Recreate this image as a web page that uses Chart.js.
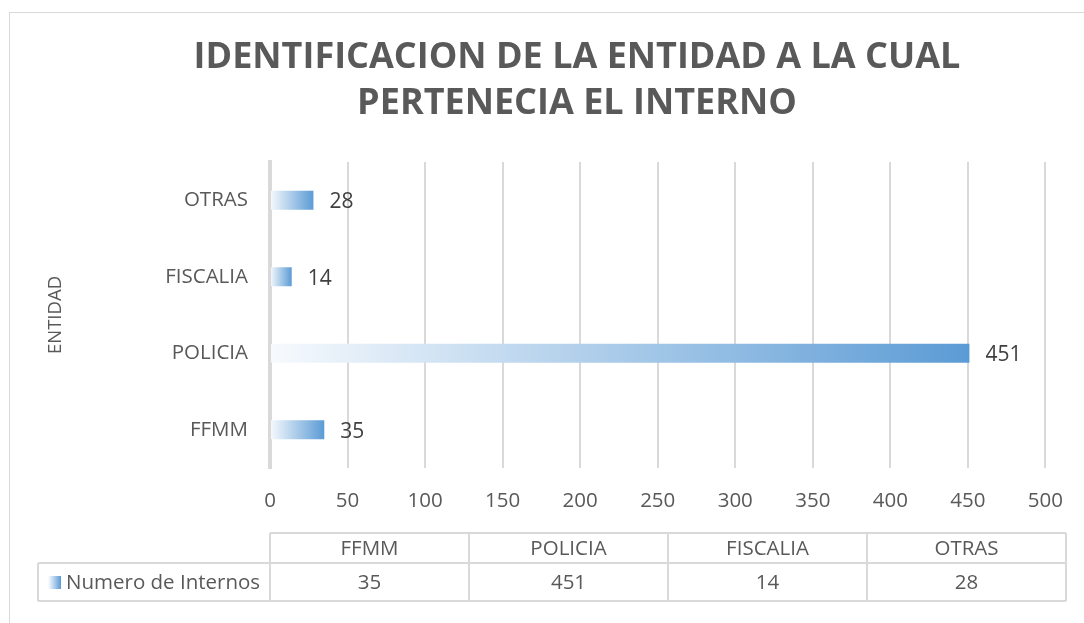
<!DOCTYPE html>
<html>
<head>
<meta charset="utf-8">
<script src="https://cdn.jsdelivr.net/npm/chart.js@4"></script>
<style>
    html, body { margin: 0; padding: 0; background: #ffffff; overflow: hidden; }
    #wrap { position: relative; width: 1084px; height: 623px; overflow: hidden; }
    #frame { position: absolute; left: 9px; top: 12px; width: 1200px; height: 700px; border: 1px solid #d9d9d9; box-sizing: border-box; }
    canvas { position: absolute; left: 0; top: 0; }
</style>
</head>
<body>
<div id="wrap">
    <div id="frame"></div>
    <canvas id="chart" width="1084" height="623"></canvas>
</div>
<script>
// ================= DATA =================
const categories = ["FFMM", "POLICIA", "FISCALIA", "OTRAS"];
const internos = [35, 451, 14, 28];
const seriesName = "Numero de Internos";
const titleLines = ["IDENTIFICACION DE LA ENTIDAD A LA CUAL", "PERTENECIA EL INTERNO"];
const xTicks = [0, 50, 100, 150, 200, 250, 300, 350, 400, 450, 500];

const FONT = "'Open Sans', 'DejaVu Sans', sans-serif";
const TEXT = "#595959";
const GRID = "#d9d9d9";


// ================= GRADIENT =================
function barGradient(ctx) {

    const chart = ctx.chart;

    if (!chart.chartArea || ctx.type !== "data") return "#5b9bd5";

    const xScale = chart.scales.x;
    const x0 = xScale.getPixelForValue(0);
    const x1 = xScale.getPixelForValue(ctx.raw);

    const g = chart.ctx.createLinearGradient(x0, 0, x1, 0);
    g.addColorStop(0, "#f7fafd");
    g.addColorStop(1, "#5b9bd5");
    return g;

}


// ================= TITLE =================
// the original chart is wider than the picture, so its title sits right of the canvas centre
const chartTitle = {
    id: "chartTitle",
    afterDraw(chart) {

        const ctx = chart.ctx;

        ctx.save();
        ctx.font = "bold 36px " + FONT;
        ctx.fillStyle = TEXT;
        ctx.textAlign = "center";
        ctx.textBaseline = "middle";

        titleLines.forEach((line, i) => {
            ctx.fillText(line, 577, 58 + i * 46);
        });

        ctx.restore();

    }
};


// ================= VALUE LABELS =================
const valueLabels = {
    id: "valueLabels",
    afterDatasetsDraw(chart) {

        const ctx = chart.ctx;
        const meta = chart.getDatasetMeta(0);

        ctx.save();
        ctx.font = "21px " + FONT;
        ctx.fillStyle = "#404040";
        ctx.textAlign = "left";
        ctx.textBaseline = "middle";

        meta.data.forEach((bar, i) => {
            ctx.fillText(String(internos[i]), bar.x + 16, bar.y + 2);
        });

        ctx.restore();

    }
};


// ================= DATA TABLE =================
const dataTable = {
    id: "dataTable",
    afterDraw(chart) {

        const ctx = chart.ctx;
        const area = chart.chartArea;

        const left = area.left;
        const right = chart.width - 18;
        const colW = (right - left) / categories.length;
        const legendLeft = 38;
        const top = area.bottom + 65;
        const midY = top + 30;
        const bottomY = midY + 38;

        ctx.save();
        ctx.strokeStyle = GRID;
        ctx.lineWidth = 2;

        ctx.beginPath();
        ctx.moveTo(left, top);
        ctx.lineTo(right, top);
        ctx.moveTo(legendLeft, midY);
        ctx.lineTo(right, midY);
        ctx.moveTo(legendLeft, bottomY);
        ctx.lineTo(right, bottomY);
        ctx.moveTo(legendLeft, midY);
        ctx.lineTo(legendLeft, bottomY);
        for (let i = 0; i <= categories.length; i++) {
            const x = left + i * colW;
            ctx.moveTo(x, top);
            ctx.lineTo(x, bottomY);
        }
        ctx.stroke();

        ctx.fillStyle = TEXT;
        ctx.font = "20.5px " + FONT;
        ctx.textAlign = "center";
        ctx.textBaseline = "middle";

        categories.forEach((cat, i) => {
            const cx = left + (i + 0.5) * colW;
            ctx.fillText(cat, cx, (top + midY) / 2 + 1);
            ctx.fillText(String(internos[i]), cx, (midY + bottomY) / 2 + 1);
        });

        // legend key
        const keyY = (midY + bottomY) / 2;
        const g = ctx.createLinearGradient(legendLeft + 10, 0, legendLeft + 23, 0);
        g.addColorStop(0, "#ffffff");
        g.addColorStop(1, "#5b9bd5");
        ctx.fillStyle = g;
        ctx.fillRect(legendLeft + 10, keyY - 6, 13, 13);

        ctx.fillStyle = TEXT;
        ctx.textAlign = "left";
        ctx.fillText(seriesName, legendLeft + 28, keyY + 1);

        ctx.restore();

    }
};


// ================= CHART =================
new Chart(document.getElementById("chart"), {
    type: "bar",
    data: {
        labels: categories,
        datasets: [{
            label: seriesName,
            data: internos,
            backgroundColor: barGradient,
            borderWidth: 0,
            categoryPercentage: 0.5,
            barPercentage: 0.5
        }]
    },
    options: {
        indexAxis: "y",
        responsive: false,
        animation: false,
        devicePixelRatio: 1,
        layout: {
            padding: { left: 40, right: 34, top: 162, bottom: 90 }
        },
        plugins: {
            legend: { display: false },
            tooltip: { enabled: false },
            title: { display: false }
        },
        scales: {
            x: {
                min: 0,
                max: 500,
                afterBuildTicks(scale) {
                    scale.ticks = xTicks.map(v => ({ value: v }));
                },
                afterFit(scale) {
                    scale.height = 65;
                },
                grid: { color: GRID, lineWidth: 2, drawTicks: false },
                border: { display: false },
                ticks: { color: TEXT, font: { family: FONT, size: 20.5 }, padding: 21 }
            },
            y: {
                reverse: true,
                afterFit(scale) {
                    scale.width = 230;
                },
                grid: { display: false, drawTicks: false },
                border: { color: GRID, width: 4 },
                ticks: { color: TEXT, font: { family: FONT, size: 20.5 }, padding: 22 },
                title: {
                    display: true,
                    text: "ENTIDAD",
                    color: TEXT,
                    font: { family: FONT, size: 18.5 },
                    padding: { top: 5, bottom: 0 }
                }
            }
        }
    },
    plugins: [chartTitle, valueLabels, dataTable]
});
</script>
</body>
</html>
